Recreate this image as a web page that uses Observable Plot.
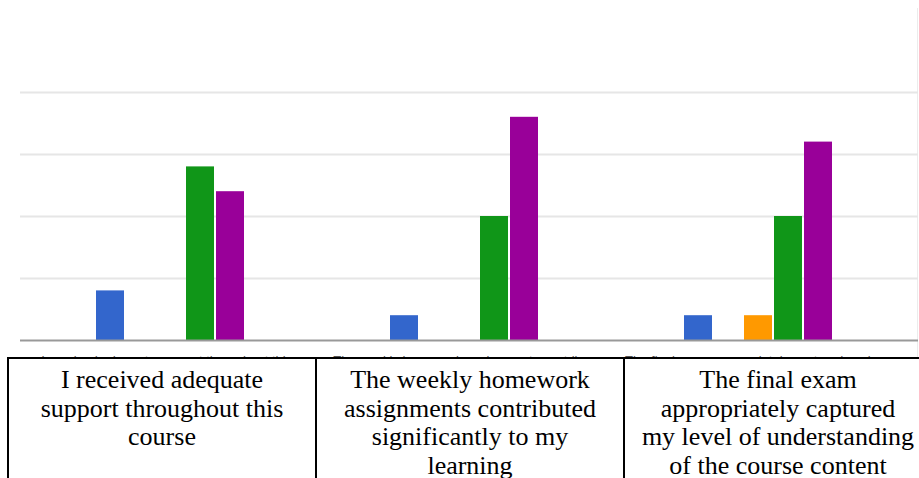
<!DOCTYPE html>
<html>
<head>
<meta charset="utf-8">
<script src="https://cdn.jsdelivr.net/npm/d3@7"></script>
<script src="https://cdn.jsdelivr.net/npm/@observablehq/plot@0.6"></script>
<style>
  html, body { margin: 0; padding: 0; background: #fff; overflow: hidden; width: 919px; height: 478px; }
  #chart { position: relative; width: 919px; height: 358px; }
  #chart > svg, #chart > figure { position: absolute; left: 0; top: 0; }
  #edge { position: absolute; left: 917px; top: 8px; width: 1px; height: 350px; background: #ececec; }
  #table { position: absolute; left: 7px; top: 357px; display: flex; border-top: 2px solid #000; }
  .cell { box-sizing: border-box; width: 308px; height: 140px; border-left: 2px solid #000;
          font-family: "Liberation Serif", "Times New Roman", serif; font-size: 26px; line-height: 28.7px;
          text-align: center; color: #000; padding-top: 7px; white-space: nowrap; }
</style>
</head>
<body>
<div id="chart"><div id="edge"></div></div>
<div id="table"></div>
<script>
// ---- data ----
const questionLines = [
  ["I received adequate", "support throughout this", "course"],
  ["The weekly homework", "assignments contributed", "significantly to my", "learning"],
  ["The final exam", "appropriately captured", "my level of understanding", "of the course content"]
];
const questions = questionLines.map(l => l.join(" "));
const levels = ["Strongly Disagree", "Disagree", "Neutral", "Agree", "Strongly Agree"];
const levelColors = ["#3366cc", "#dc3912", "#ff9900", "#109618", "#990099"];
const q1Counts = [2, 0, 0, 7, 6];
const q2Counts = [1, 0, 0, 5, 9];
const q3Counts = [1, 0, 1, 5, 8];
const gridTicks = [2.5, 5, 7.5, 10];
const yDomain = [0, 10];

const counts = [q1Counts, q2Counts, q3Counts];
const data = [];
questions.forEach((q, i) => levels.forEach((lv, j) => data.push({question: q, level: lv, value: counts[i][j]})));

const W = 919, H = 358, MT = 92, MB = 18;
const chart = document.getElementById("chart");

// layer 1: gridlines (full width)
const grid = Plot.plot({
  width: W, height: H, marginTop: MT, marginBottom: MB, marginLeft: 20, marginRight: 1,
  style: {background: "transparent"},
  x: {axis: null}, y: {domain: yDomain, axis: null},
  marks: [Plot.ruleY(gridTicks, {stroke: "#e6e6e6", strokeWidth: 2})]
});
chart.appendChild(grid);

// layer 2: grouped bars + (mostly hidden) category labels
const bars = Plot.plot({
  width: W, height: H, marginTop: MT, marginBottom: MB, marginLeft: 20, marginRight: 11,
  style: {background: "transparent", overflow: "hidden", fontFamily: "Arial, 'Liberation Sans', sans-serif"},
  facet: {marginTop: 0, marginBottom: 0, marginLeft: 0, marginRight: 0},
  fx: {domain: questions, paddingInner: 0.4788, paddingOuter: 0.247, axis: null},
  x: {domain: levels, padding: 0.07, axis: null},
  y: {domain: yDomain, axis: null},
  color: {domain: levels, range: levelColors},
  marks: [
    Plot.barY(data, {fx: "question", x: "level", y: "value", fill: "level"}),
    Plot.text(questions, {fx: d => d, text: d => d, frameAnchor: "bottom", lineAnchor: "top",
      dy: 15, lineWidth: 22, textOverflow: "ellipsis", fontSize: 13, fill: "#555"})
  ]
});
chart.appendChild(bars);

// layer 3: baseline
const base = Plot.plot({
  width: W, height: H, marginTop: MT, marginBottom: MB, marginLeft: 20, marginRight: 1,
  style: {background: "transparent"},
  x: {axis: null}, y: {domain: yDomain, axis: null},
  marks: [Plot.ruleY([0], {stroke: "#999", strokeWidth: 2})]
});
chart.appendChild(base);

// table of question labels
const table = document.getElementById("table");
questionLines.forEach(lines => {
  const c = document.createElement("div");
  c.className = "cell";
  c.innerHTML = lines.join("<br>");
  table.appendChild(c);
});
</script>
</body>
</html>
